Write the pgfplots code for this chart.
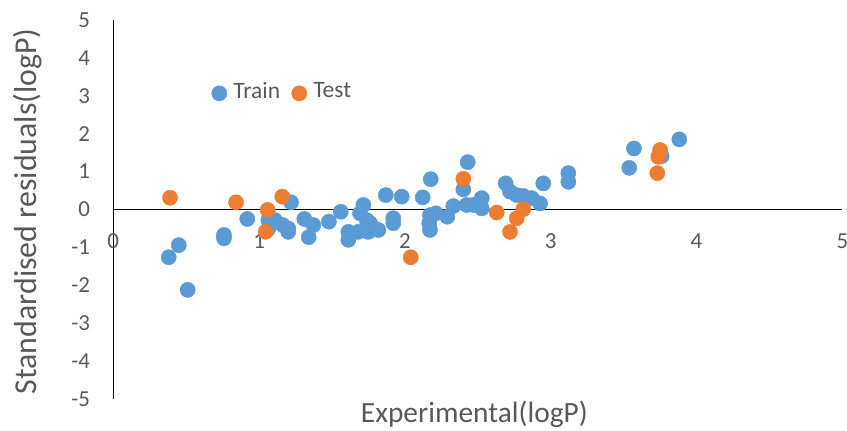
\documentclass[border=0pt]{standalone}
\usepackage{pgfplots}
\pgfplotsset{compat=1.18}
\usepackage{fontspec}
\setmainfont{Carlito}
\definecolor{trainc}{HTML}{5B9BD5}
\definecolor{testc}{HTML}{ED7D31}
\definecolor{txt}{HTML}{595959}
\begin{document}
\begin{tikzpicture}
\begin{axis}[
  scale only axis, width=729bp, height=379bp,
  xmin=0, xmax=5, ymin=-5, ymax=5,
  axis x line=middle, axis y line=left,
  axis line style={-, line width=1.4bp, black},
  xtick={0,1,2,3,4,5}, ytick={-5,-4,-3,-2,-1,0,1,2,3,4,5},
  major tick length=0pt,
  hide obscured x ticks=false, hide obscured y ticks=false,
  /pgf/number format/assume math mode=true,
  ticklabel style={font=\fontsize{23}{23}\selectfont, text=txt},
  xticklabel style={anchor=center, inner sep=0pt, yshift=-31.5bp},
  yticklabel style={anchor=east, inner sep=0pt, xshift=-23bp},
  xlabel={Experimental(logP)}, ylabel={Standardised residuals(logP)},
  every axis x label/.style={at={(axis description cs:0.4953,-0.0607)}, anchor=base, font=\fontsize{29.5}{30}\selectfont, text=txt},
  every axis y label/.style={at={(axis description cs:-0.1060,0.495)}, anchor=base, rotate=90, font=\fontsize{32}{32}\selectfont, text=txt},
  legend columns=2,
  legend image code/.code={\draw[#1] plot coordinates {(0bp,-2.7bp)};},
  legend style={draw=none, fill=none, inner sep=0pt, at={(axis description cs:0.1347,0.8116)}, anchor=west,
    font=\fontsize{23.6}{24}\selectfont, text=txt, nodes={inner sep=0pt},
    /tikz/every odd column/.append style={column sep=6.5bp},
    /tikz/every even column/.append style={column sep=11.5bp}},
]
\coordinate (sw) at (axis cs:0,-5);
\coordinate (ne) at (axis cs:5,5);
\addplot[only marks, mark=*, mark size=7.6bp, color=trainc, mark options={draw=none, fill=trainc}] coordinates {
(0.380,-1.26) (0.449,-0.94) (0.510,-2.12) (0.759,-0.67) (0.759,-0.76)
(0.919,-0.25) (1.063,-0.28) (1.063,-0.51) (1.109,-0.28) (1.162,-0.41) (1.200,-0.50)
(1.200,-0.59) (1.219,0.19) (1.310,-0.25) (1.372,-0.41) (1.340,-0.73)
(1.479,-0.32) (1.560,-0.06) (1.612,-0.59) (1.612,-0.80) (1.680,-0.59)
(1.715,0.12) (1.692,-0.10) (1.738,-0.28) (1.749,-0.59) (1.818,-0.54)
(1.761,-0.36) (1.869,0.38) (1.920,-0.23) (1.920,-0.36) (1.978,0.34)
(2.122,0.32) (2.177,0.80) (2.172,-0.15) (2.167,-0.36) (2.172,-0.54)
(2.213,-0.10) (2.291,-0.19) (2.332,0.09) (2.431,1.25) (2.401,0.53)
(2.424,0.12) (2.469,0.12) (2.527,0.30) (2.527,0.03) (2.691,0.69)
(2.721,0.47) (2.767,0.38) (2.812,0.36) (2.870,0.30) (2.927,0.16)
(2.949,0.69) (3.121,0.96) (3.121,0.73) (3.571,1.61) (3.539,1.10)
(3.761,1.41) (3.882,1.85)
};
\addlegendentry{Train}
\addplot[only marks, mark=*, mark size=7.6bp, color=testc, mark options={draw=none, fill=testc}] coordinates {
(0.389,0.31) (0.842,0.19) (1.059,-0.01) (1.045,-0.59) (1.159,0.34)
(2.040,-1.26) (2.401,0.81) (2.630,-0.08) (2.721,-0.59) (2.767,-0.23)
(2.812,0.01) (3.750,1.57) (3.738,1.39) (3.731,0.96)
};
\addlegendentry{Test}
\end{axis}
\pgfresetboundingbox
\path[use as bounding box] ([shift={(-113.3bp,-31bp)}]sw) rectangle ([shift={(4.7bp,20bp)}]ne);
\end{tikzpicture}
\end{document}
